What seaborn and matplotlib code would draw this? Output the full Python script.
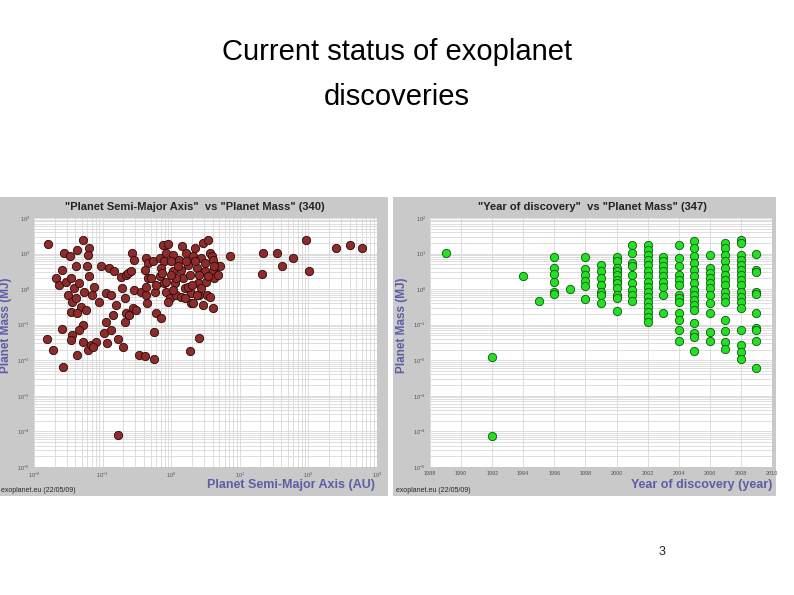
import numpy as np
import pandas as pd
import matplotlib
matplotlib.use("Agg")
import matplotlib.pyplot as plt
import seaborn as sns
from matplotlib.ticker import LogLocator, FixedLocator, NullFormatter

sns.set_style("white")
plt.rcParams['font.family'] = ['Liberation Sans', 'DejaVu Sans']

# Left chart: log10 of semi-major axis (AU) and log10 of planet mass (MJ)
log_axis = [-1.79,-1.81,-1.72,-1.57,-1.59,-1.56,-1.47,-1.29,-1.38,-1.20,-1.22,-1.39,-1.23,-1.59,-1.68,-1.64,-1.54,-1.46,-1.41,-1.34,
            -1.27,-1.51,-1.44,-1.39,-1.32,-1.46,-1.37,-1.29,-1.34,-1.44,-1.46,-1.37,-1.29,-1.22,-1.17,-1.10,-1.14,-1.24,-1.20,-1.12,
            -1.15,-1.05,-1.02,-0.90,-0.83,-0.95,-0.88,-0.80,-0.85,-0.95,-0.98,-0.93,-0.88,-0.78,-0.70,-0.77,-0.73,-0.66,-0.63,-0.59,
            -0.57,-0.54,-0.71,-0.68,-0.66,-0.68,-0.61,-0.56,-0.51,-0.54,-0.44,-0.37,-0.47,-0.38,-0.25,-0.25,-0.22,-0.15,-0.37,-0.34,
            -0.38,-0.34,-0.37,-0.36,-0.27,-0.29,-0.24,-0.22,
            -0.17,-0.12,-0.05,-0.07,-0.10,-0.15,-0.17,-0.11,-0.07,-0.02,0.02,0.02,0.05,0.07,0.12,0.15,0.17,0.20,0.22,0.24,
            0.27,0.29,0.32,0.34,0.37,0.39,0.41,0.44,0.46,0.49,0.51,0.54,0.56,0.59,0.61,0.63,0.66,0.68,0.71,0.46,
            0.61,0.29,0.32,0.15,-0.05,0.02,0.10,0.24,0.41,0.49,0.52,0.40,0.27,0.16,0.85,-0.01,0.07,0.20,0.34,0.38,
            0.56,0.61,-0.13,-0.08,0.0,0.22,0.31,0.44,0.54,0.63,
            1.34,1.32,1.54,1.62,1.78,1.97,2.01,2.40,2.60,2.78]
log_mass_a = [1.28,-1.41,-1.71,-2.18,-1.12,1.01,0.92,1.37,1.11,1.15,0.97,0.64,0.64,0.54,0.31,0.12,0.21,0.31,0.03,0.17,
              -0.07,-0.16,-0.35,-0.26,-0.49,-0.63,-0.68,-1.01,-1.15,-1.29,-1.43,-1.85,-1.48,-1.71,-1.57,-1.48,-1.62,-0.58,0.36,0.07,
              -0.16,-0.35,0.64,0.59,0.52,-0.11,-0.16,-0.44,-0.73,-0.91,-1.24,-1.52,-1.15,-1.40,-1.64,-4.11,0.33,0.40,0.45,0.50,
              1.01,0.83,0.03,-0.26,-0.68,-0.91,-0.73,-0.54,-0.58,-0.02,-0.07,-0.16,-1.85,-1.87,-1.95,-1.20,-0.68,-0.82,0.87,0.73,
              0.54,0.31,0.07,-0.40,0.78,0.31,-0.07,0.12,
              0.87,1.25,1.27,1.01,0.78,0.59,0.36,0.17,-0.07,-0.26,0.97,0.50,0.17,-0.16,0.83,0.54,0.31,0.03,1.01,0.68,
              0.40,-0.11,0.92,1.15,0.59,0.17,-0.16,0.87,1.30,0.50,0.21,1.37,1.01,0.92,0.50,0.31,0.64,0.40,0.64,-0.44,
              -0.54,-0.40,-0.40,-0.21,-0.35,-0.02,0.64,0.07,0.40,0.73,-0.16,-1.38,-1.74,1.20,0.94,0.78,0.31,-0.26,0.78,-0.16,
              -0.21,0.83,0.45,0.21,0.40,0.78,0.12,0.03,0.36,0.64,
              1.01,0.43,1.01,0.64,0.87,1.37,0.50,1.15,1.25,1.15]

# Right chart: discovery year and log10 of planet mass (MJ)
years_by_col = {
    1989: [1.03],
    1992: [-1.90, -4.14],
    1994: [0.38],
    1995: [-0.33],
    1996: [0.89, 0.59, 0.42, 0.21, -0.07, -0.14],
    1997: [0.01],
    1998: [0.90, 0.57, 0.40, 0.23, 0.10, -0.28],
    1999: [0.68, 0.50, 0.31, 0.12, -0.07, -0.16, -0.40],
    2000: [0.90, 0.78, 0.59, 0.50, 0.40, 0.26, 0.17, 0.03, -0.16, -0.26, -0.61],
    2001: [1.25, 1.01, 0.73, 0.64, 0.40, 0.17, -0.02, -0.16, -0.33],
    2002: [1.25, 1.11, 0.97, 0.83, 0.68, 0.50, 0.36, 0.21, 0.07, -0.07, -0.21, -0.35, -0.49, -0.63, -0.77, -0.93],
    2003: [0.90, 0.78, 0.64, 0.50, 0.36, 0.21, 0.07, -0.16, -0.68],
    2004: [1.25, 0.87, 0.64, 0.40, 0.26, 0.12, -0.16, -0.26, -0.35, -0.68, -0.87, -1.15, -1.46],
    2005: [1.34, 1.15, 0.92, 0.73, 0.54, 0.36, 0.17, -0.02, -0.16, -0.30, -0.44, -0.58, -0.96, -1.24, -1.34, -1.74],
    2006: [0.97, 0.59, 0.45, 0.31, 0.17, 0.03, -0.16, -0.40, -0.68, -1.21, -1.45],
    2007: [1.30, 1.15, 0.97, 0.78, 0.59, 0.40, 0.26, 0.12, -0.07, -0.21, -0.35, -0.87, -1.18, -1.48, -1.67],
    2008: [1.39, 1.30, 0.97, 0.83, 0.68, 0.54, 0.40, 0.26, 0.12, -0.07, -0.21, -0.35, -0.54, -1.15, -1.57, -1.76, -1.95],
    2009: [0.98, 0.54, 0.47, -0.09, -0.14, -0.68, -1.08, -1.15, -1.46, -2.21],
}

df_a = pd.DataFrame({"axis": 10.0 ** np.array(log_axis), "mass": 10.0 ** np.array(log_mass_a)})
yr, lm = [], []
for y, vals in years_by_col.items():
    yr += [y] * len(vals); lm += vals
df_y = pd.DataFrame({"year": yr, "mass": 10.0 ** np.array(lm)})

W, H = 794, 595
fig = plt.figure(figsize=(W / 100, H / 100), dpi=100)
fig.patch.set_facecolor("white")

def fr(x0, y0, x1, y1):
    return [x0 / W, 1 - y1 / H, (x1 - x0) / W, (y1 - y0) / H]

panel_gray = "#c9c9c9"
lab_col = "#5b5ea6"
for box in [fr(0, 197, 388, 496), fr(393, 197, 776, 496)]:
    bg = fig.add_axes(box)
    bg.set_facecolor(panel_gray)
    bg.set_xticks([]); bg.set_yticks([])
    for s in bg.spines.values():
        s.set_visible(False)

fig.text(397 / W, 1 - 52 / H, "Current status of exoplanet", ha="center", va="center", fontsize=21, color="black")
fig.text(397 / W, 1 - 97 / H, "discoveries", ha="center", va="center", fontsize=21, color="black")
fig.text(662 / W, 1 - 552 / H, "3", ha="center", va="center", fontsize=9)

def style(ax):
    ax.set_facecolor("white")
    ax.set_yscale("log")
    ax.set_ylim(1e-5, 1e2)
    ax.yaxis.set_major_locator(LogLocator(base=10, numticks=10))
    ax.yaxis.set_minor_locator(LogLocator(base=10, subs=np.arange(2, 10), numticks=100))
    ax.yaxis.set_minor_formatter(NullFormatter())
    ax.grid(True, which="both", color="#d8d8d8", lw=0.6)
    ax.set_axisbelow(True)
    ax.tick_params(labelsize=4, length=2, colors="#555555", pad=1)
    ax.tick_params(which="minor", length=1)
    for s in ax.spines.values():
        s.set_visible(False)

axL = fig.add_axes(fr(34, 218, 377, 467))
style(axL)
axL.set_xscale("log")
axL.set_xlim(1e-2, 1e3)
axL.xaxis.set_minor_locator(LogLocator(base=10, subs=np.arange(2, 10), numticks=100))
axL.xaxis.set_minor_formatter(NullFormatter())
sns.scatterplot(data=df_a, x="axis", y="mass", ax=axL, s=36, color="#8e2b2b",
                edgecolor="#2a0a0a", linewidth=0.6, zorder=3)
axL.set_xlabel(""); axL.set_ylabel("")

axR = fig.add_axes(fr(430, 218, 772, 467))
style(axR)
axR.set_xlim(1988, 2010)
axR.xaxis.set_major_locator(FixedLocator(range(1988, 2011, 2)))
axR.grid(True, which="major", axis="x", color="#d8d8d8", lw=0.6)
sns.scatterplot(data=df_y, x="year", y="mass", ax=axR, s=36, color="#22e022",
                edgecolor="#115511", linewidth=0.6, zorder=3)
axR.set_xlabel(""); axR.set_ylabel("")

fig.text(195 / W, 1 - 207 / H, "\"Planet Semi-Major Axis\"  vs \"Planet Mass\" (340)", ha="center", va="center",
         fontsize=8, fontweight="bold", color="#222222")
fig.text(592 / W, 1 - 207 / H, "\"Year of discovery\"  vs \"Planet Mass\" (347)", ha="center", va="center",
         fontsize=8, fontweight="bold", color="#222222")
fig.text(375 / W, 1 - 485 / H, "Planet Semi-Major Axis (AU)", ha="right", va="center",
         fontsize=9, fontweight="bold", color=lab_col)
fig.text(772 / W, 1 - 485 / H, "Year of discovery (year)", ha="right", va="center",
         fontsize=9, fontweight="bold", color=lab_col)
fig.text(6 / W, 1 - 325 / H, "Planet Mass (MJ)", rotation=90, ha="center", va="center",
         fontsize=8.5, fontweight="bold", color=lab_col)
fig.text(402 / W, 1 - 325 / H, "Planet Mass (MJ)", rotation=90, ha="center", va="center",
         fontsize=8.5, fontweight="bold", color=lab_col)
fig.text(1 / W, 1 - 490 / H, "exoplanet.eu (22/05/09)", ha="left", va="center", fontsize=5)
fig.text(396 / W, 1 - 490 / H, "exoplanet.eu (22/05/09)", ha="left", va="center", fontsize=5)

fig.savefig("out.png", dpi=100)
